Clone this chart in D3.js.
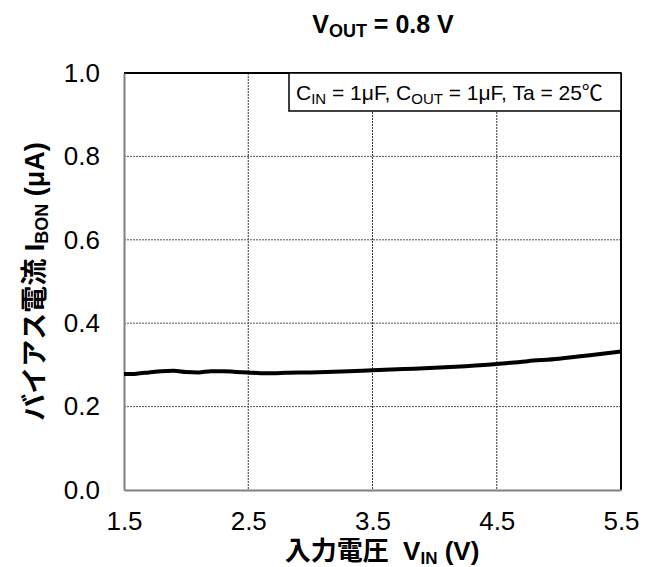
<!DOCTYPE html>
<html lang="ja">
<head>
<meta charset="UTF-8">
<title>bias current</title>
<script src="https://d3js.org/d3.v7.min.js"></script>
<style>
  body { margin: 0; background: #fff; }
  text { font-family: "Liberation Sans", Arial, "Noto Sans CJK JP", sans-serif; }
</style>
</head>
<body>
<div id="chart"></div>
<script>
// input voltage (V) and bias current (uA)
var vin = [1.5, 1.6, 1.7, 1.8, 1.9, 2.0, 2.1, 2.2, 2.3, 2.4, 2.5, 2.6, 2.7, 2.8, 3.0,
           3.25, 3.5, 3.75, 4.0, 4.25, 4.5, 4.75, 5.0, 5.25, 5.5];
var ibon = [0.278, 0.279, 0.282, 0.285, 0.286, 0.283, 0.282, 0.285, 0.285, 0.283, 0.282, 0.280, 0.280, 0.281, 0.282,
            0.284, 0.287, 0.290, 0.293, 0.297, 0.302, 0.309, 0.315, 0.323, 0.332];
var xTicks = [1.5, 2.5, 3.5, 4.5, 5.5];
var yTicks = [0.0, 0.2, 0.4, 0.6, 0.8, 1.0];

var W = 646, H = 567;
var pLeft = 124, pRight = 621, pTop = 73, pBottom = 490;
var jp = '"Liberation Sans", Arial, "Noto Sans CJK JP", sans-serif';

var svg = d3.select("#chart").append("svg").attr("width", W).attr("height", H);

var x = d3.scaleLinear().domain([1.5, 5.5]).range([pLeft, pRight]);
var y = d3.scaleLinear().domain([0, 1]).range([pBottom, pTop]);

// grid
svg.append("g").selectAll("line").data(xTicks.slice(1, -1)).enter().append("line")
    .attr("x1", function (d) { return x(d); }).attr("x2", function (d) { return x(d); })
    .attr("y1", pTop).attr("y2", pBottom)
    .attr("stroke", "#333").attr("stroke-width", 1).attr("stroke-dasharray", "2,1");
svg.append("g").selectAll("line").data(yTicks.slice(1, -1)).enter().append("line")
    .attr("x1", pLeft).attr("x2", pRight)
    .attr("y1", function (d) { return y(d); }).attr("y2", function (d) { return y(d); })
    .attr("stroke", "#555").attr("stroke-width", 1).attr("stroke-dasharray", "2,1");

// frame: top/right black, left/bottom gray axes
svg.append("line").attr("x1", pLeft).attr("x2", pRight).attr("y1", pTop).attr("y2", pTop)
    .attr("stroke", "#000").attr("stroke-width", 2);
svg.append("line").attr("x1", pRight).attr("x2", pRight).attr("y1", pTop).attr("y2", pBottom)
    .attr("stroke", "#000").attr("stroke-width", 2);

var xAxis = svg.append("g").attr("transform", "translate(0," + pBottom + ")")
    .call(d3.axisBottom(x).tickValues(xTicks).tickSize(0).tickPadding(22).tickFormat(d3.format(".1f")));
var yAxis = svg.append("g").attr("transform", "translate(" + pLeft + ",0)")
    .call(d3.axisLeft(y).tickValues(yTicks).tickSize(0).tickPadding(24).tickFormat(d3.format(".1f")));
[xAxis, yAxis].forEach(function (a) {
    a.select(".domain").attr("stroke", "#808080").attr("stroke-width", 2);
    a.selectAll("text").attr("font-size", "26px").attr("fill", "#000")
        .attr("font-family", jp);
});

// data line
var line = d3.line().x(function (d, i) { return x(vin[i]); }).y(function (d) { return y(d); })
    .curve(d3.curveMonotoneX);
svg.append("path").datum(ibon).attr("d", line)
    .attr("fill", "none").attr("stroke", "#000").attr("stroke-width", 4);

// condition box
svg.append("rect").attr("x", 289).attr("y", pTop).attr("width", pRight - 289).attr("height", 38)
    .attr("fill", "#fff").attr("stroke", "#000").attr("stroke-width", 1.5);
var cond = svg.append("text").attr("x", 296).attr("y", 100).attr("font-size", "21px");
cond.append("tspan").text("C");
cond.append("tspan").attr("font-size", "15px").attr("dy", 4).text("IN");
cond.append("tspan").attr("dy", -4).text(" = 1μF, C");
cond.append("tspan").attr("font-size", "15px").attr("dy", 4).text("OUT");
cond.append("tspan").attr("dy", -4).text(" = 1μF, Ta = 25℃");

// title
var title = svg.append("text").attr("x", 383).attr("y", 33).attr("text-anchor", "middle")
    .attr("font-size", "25px").attr("font-weight", "bold");
title.append("tspan").text("V");
title.append("tspan").attr("font-size", "18px").attr("dy", 4).text("OUT");
title.append("tspan").attr("dy", -4).text(" = 0.8 V");

// x axis title
var xt = svg.append("text").attr("x", 382).attr("y", 560).attr("text-anchor", "middle")
    .attr("font-size", "26px").attr("font-weight", "bold");
xt.append("tspan").text("入力電圧\u00a0\u00a0V");
xt.append("tspan").attr("font-size", "17px").attr("dy", 4).text("IN");
xt.append("tspan").attr("dy", -4).text(" (V)");

// y axis title
var yt = svg.append("text").attr("transform", "translate(44," + (pTop + pBottom) / 2 + ") rotate(-90)")
    .attr("text-anchor", "middle").attr("font-size", "27px").attr("font-weight", "bold");
yt.append("tspan").text("バイアス電流\u00a0I");
yt.append("tspan").attr("font-size", "18px").attr("dy", 4).text("BON");
yt.append("tspan").attr("dy", -4).text(" (μA)");
</script>
</body>
</html>
